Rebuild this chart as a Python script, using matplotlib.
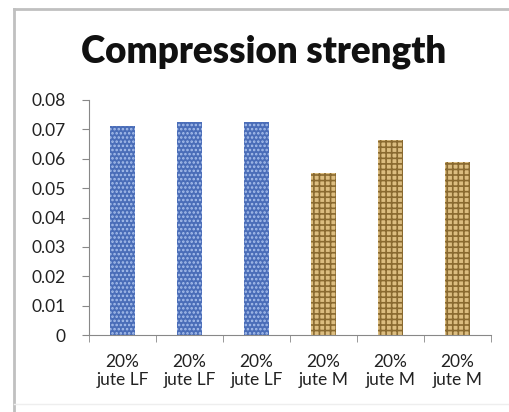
import numpy as np
import matplotlib.pyplot as plt
from matplotlib.lines import Line2D

categories = ["20%\njute LF", "20%\njute LF", "20%\njute LF",
              "20%\njute M", "20%\njute M", "20%\njute M"]
values = [0.071, 0.0725, 0.0725, 0.055, 0.0665, 0.059]
yticks = [0, 0.01, 0.02, 0.03, 0.04, 0.05, 0.06, 0.07, 0.08]
ytick_labels = ["0", "0.01", "0.02", "0.03", "0.04", "0.05", "0.06", "0.07", "0.08"]

plt.rcParams['font.family'] = ['Lato', 'DejaVu Sans']
plt.rcParams['hatch.linewidth'] = 1.2

W, H = 510, 412
fig = plt.figure(figsize=(W / 100, H / 100), dpi=100)

# outer chart border (left and top edges, faint bottom)
fig.lines.append(Line2D([14 / W, 14 / W], [0, 1 - 9 / H], transform=fig.transFigure,
                        color='#c0c0c0', linewidth=2))
fig.lines.append(Line2D([14 / W, 1], [1 - 9 / H, 1 - 9 / H], transform=fig.transFigure,
                        color='#c0c0c0', linewidth=2))
fig.lines.append(Line2D([14 / W, 1], [1 - 404 / H, 1 - 404 / H], transform=fig.transFigure,
                        color='#eeeeee', linewidth=1))

ax = fig.add_axes([89 / W, 77 / H, (491 - 89) / W, 235 / H])
x = np.arange(len(values))
colors = ['#4a6db8'] * 3 + ['#dcbd80'] * 3
hatch_colors = ['#a9c0ec'] * 3 + ['#8a6a30'] * 3
hatches = ['....'] * 3 + ['+++'] * 3
for xi, v, c, hc, h in zip(x, values, colors, hatch_colors, hatches):
    ax.bar(xi, v, width=0.37, color=c, edgecolor=hc, hatch=h, linewidth=0)

ax.set_xlim(-0.5, len(values) - 0.5)
ax.set_ylim(0, 0.08)
ax.set_yticks(yticks)
ax.set_yticklabels(ytick_labels, fontsize=12.5, color='#222222')
ax.set_xticks(x)
ax.set_xticklabels(categories, fontsize=12.5, color='#222222', linespacing=1.15)
ax.set_xticks(np.arange(-0.5, len(values)), minor=True)
ax.tick_params(axis='x', which='major', length=0, pad=14)
ax.tick_params(axis='x', which='minor', length=5, color='#888888', direction='out')
ax.tick_params(axis='y', length=5, color='#888888', pad=12)
for s in ['top', 'right']:
    ax.spines[s].set_visible(False)
ax.spines['left'].set_color('#888888')
ax.spines['bottom'].set_color('#888888')

fig.text(264 / W, 1 - 52 / H, "Compression strength", ha='center', va='center',
         fontsize=26.5, fontweight='heavy', color='#111111')

fig.savefig("out.png", dpi=100)
